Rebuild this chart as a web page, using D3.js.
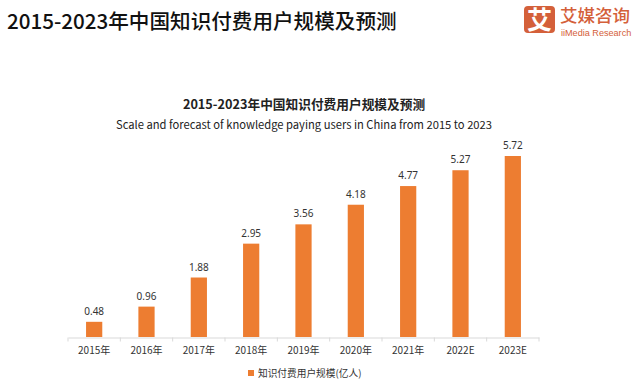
<!DOCTYPE html>
<html><head><meta charset="utf-8">
<script src="https://cdn.jsdelivr.net/npm/d3@7/dist/d3.min.js"></script>
<style>html,body{margin:0;padding:0;background:#fff}svg{display:block}</style>
</head><body><svg id="c" width="640" height="380"></svg>
<script>
const categories=["2015年","2016年","2017年","2018年","2019年","2020年","2021年","2022E","2023E"];
const values=[0.48,0.96,1.88,2.95,3.56,4.18,4.77,5.27,5.72];
const pageTitle="2015-2023年中国知识付费用户规模及预测";
const chartTitle="2015-2023年中国知识付费用户规模及预测";
const chartSubtitle="Scale and forecast of knowledge paying users in China from 2015 to 2023";
const legendLabel="知识付费用户规模(亿人)";
const CJK='"Noto Sans CJK SC","Noto Sans",sans-serif';
const svg=d3.select("#c");
const x=d3.scaleBand().domain(categories).range([68,539]).paddingInner(0.69).paddingOuter(0.345);
const y=d3.scaleLinear().domain([0,5.72]).range([337,156]);
const orange="#ED7D31";
svg.append("text").attr("x",7).attr("y",29).attr("font-family",CJK).attr("font-weight",500).attr("font-size",20.6).attr("fill","#111").text(pageTitle);
// logo
const g=svg.append("g");
g.append("rect").attr("x",524).attr("y",6).attr("width",31).attr("height",27).attr("rx",4).attr("fill","#D4603A");
g.append("text").attr("x",539.5).attr("y",29).attr("text-anchor","middle").attr("font-family",CJK).attr("font-weight",700).attr("font-size",25).attr("fill","#fff").text("艾");
g.append("text").attr("x",560).attr("y",22).attr("font-family",CJK).attr("font-weight",500).attr("font-size",17.5).attr("fill","#D4603A").text("艾媒咨询");
g.append("text").attr("x",561).attr("y",35.5).attr("font-family",'"Liberation Sans",sans-serif').attr("font-size",9.1).attr("fill","#D4603A").text("iiMedia Research");
// titles
svg.append("text").attr("x",304).attr("y",108.5).attr("text-anchor","middle").attr("font-family",CJK).attr("font-weight",700).attr("font-size",12.7).attr("fill","#222").text(chartTitle);
svg.append("text").attr("x",304).attr("y",129).attr("text-anchor","middle").attr("font-family",CJK).attr("font-size",11.2).attr("fill","#222").text(chartSubtitle);
// bars
svg.selectAll("rect.bar").data(values).join("rect").attr("class","bar")
 .attr("x",(d,i)=>x(categories[i])).attr("width",x.bandwidth())
 .attr("y",d=>y(d)).attr("height",d=>y(0)-y(d)).attr("fill",orange);
svg.selectAll("text.val").data(values).join("text").attr("class","val")
 .attr("x",(d,i)=>x(categories[i])+x.bandwidth()/2).attr("y",d=>y(d)-7)
 .attr("text-anchor","middle").attr("font-family",'"Noto Sans",sans-serif').attr("font-size",10).attr("fill","#333").text(d=>d.toFixed(2));
// axis
const axis=d3.axisBottom(x).tickSize(0).tickPadding(9);
const ax=svg.append("g").attr("transform","translate(0,337.5)").call(axis);
ax.select(".domain").attr("stroke","#d9d9d9");
ax.selectAll("text").attr("font-family",CJK).attr("font-size",10).attr("fill","#333");
const step=x.step();
ax.selectAll("line.t").data(d3.range(categories.length+1)).join("line").attr("class","t")
 .attr("x1",i=>68+i*step).attr("x2",i=>68+i*step).attr("y1",0).attr("y2",4).attr("stroke","#d9d9d9");
// legend
svg.append("rect").attr("x",248).attr("y",370).attr("width",6).attr("height",6).attr("fill",orange);
svg.append("text").attr("x",258).attr("y",377).attr("font-family",CJK).attr("font-size",9.7).attr("fill","#333").text(legendLabel);
</script></body></html>
